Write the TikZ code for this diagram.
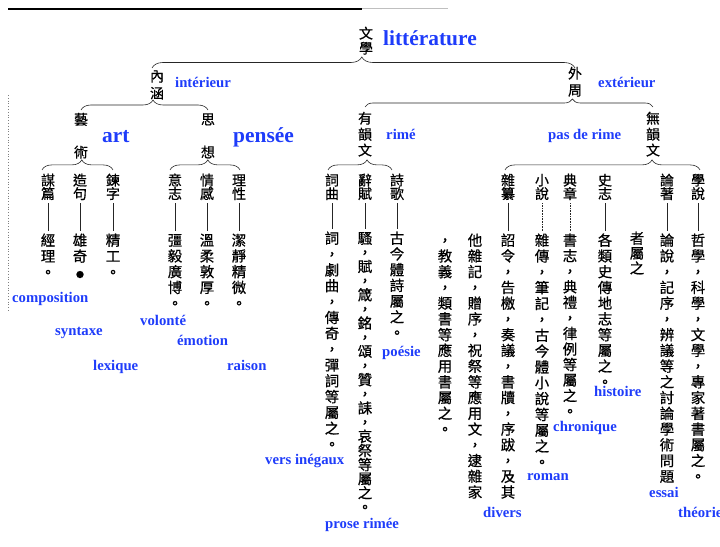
\documentclass[tikz,border=0pt]{standalone}
\usepackage{fontspec}
\setmainfont{Liberation Serif}
\newfontfamily\cjk[FakeBold=0.6]{Noto Sans CJK TC}
\usetikzlibrary{decorations.pathreplacing}
\definecolor{frblue}{RGB}{30,60,250}
\makeatletter
\newcommand\vtxt[2]{\vbox{\baselineskip=#1\lineskiplimit=-\maxdimen
  \@tfor\vch:=#2\do{\hbox to 1em{\hss\vrule height .85em depth .15em width 0pt\vch\hss}}}}
\makeatother
\tikzset{
  term/.style={anchor=north, inner sep=0pt, font=\cjk\fontsize{14}{14}\selectfont},
  desc/.style={anchor=north, inner sep=0pt, font=\cjk\fontsize{14.5}{15}\selectfont},
  fr/.style={anchor=base west, inner sep=0pt, text=frblue, font=\bfseries\fontsize{14.8}{16}\selectfont},
  frbig/.style={fr, font=\bfseries\fontsize{21.5}{24}\selectfont},
  bracket/.style={decorate, decoration={brace, amplitude=10bp, aspect=#1}, black!85, line width=.6bp},
  bracket/.default=0.5,
  link/.style={black!85, line width=.6bp, shorten <=2bp, shorten >=2bp}
}
\begin{document}
\begin{tikzpicture}[x=1bp, y=-1bp]
  \clip (0,0) rectangle (720,547);
  \draw[line width=1.5bp] (8,9) -- (362,9);
  \draw[gray!50, line width=.6bp] (362,8) -- (448,8);
  \draw[gray, dotted, line width=.8bp] (8,95) -- (8,312);

  \node[term] (wenxue) at (366,26.5) {\vtxt{15pt}{文學}};
  \node[term] (neihan) at (157,69.5) {\vtxt{17pt}{內涵}};
  \node[term] (waizhou) at (575,66.5) {\vtxt{17pt}{外周}};
  \node[term] (yishu) at (81,112.5) {\vtxt{33pt}{藝術}};
  \node[term] (sixiang) at (208,112.5) {\vtxt{33pt}{思想}};
  \node[term] (youyun) at (365,111.5) {\vtxt{16pt}{有韻文}};
  \node[term] (wuyun) at (653,111.5) {\vtxt{16pt}{無韻文}};

  \node[term] (moupian) at (48,173.4) {\vtxt{13.5pt}{謀篇}};
  \node[term] (zaoju) at (80,173.4) {\vtxt{13.5pt}{造句}};
  \node[term] (lianzi) at (113,173.4) {\vtxt{13.5pt}{鍊字}};
  \node[term] (yizhi) at (175,173.4) {\vtxt{13.5pt}{意志}};
  \node[term] (qinggan) at (207,173.4) {\vtxt{13.5pt}{情感}};
  \node[term] (lixing) at (239,173.4) {\vtxt{13.5pt}{理性}};
  \node[term] (ciqu) at (332,173.4) {\vtxt{13.5pt}{詞曲}};
  \node[term] (cifu) at (365,173.4) {\vtxt{13.5pt}{辭賦}};
  \node[term] (shige) at (397,173.4) {\vtxt{13.5pt}{詩歌}};
  \node[term] (zazuan) at (508,173.4) {\vtxt{13.5pt}{雜纂}};
  \node[term] (xiaoshuo) at (542,173.4) {\vtxt{13.5pt}{小說}};
  \node[term] (dianzhang) at (570,173.4) {\vtxt{13.5pt}{典章}};
  \node[term] (shizhi) at (605,173.4) {\vtxt{13.5pt}{史志}};
  \node[term] (lunzhu) at (667,173.4) {\vtxt{13.5pt}{論著}};
  \node[term] (xueshuo) at (698,173.4) {\vtxt{13.5pt}{學說}};

  \node[desc] (moupiand) at (48,233.2) {\vtxt{16pt}{經理。}};
  \node[desc] (zaojud) at (80,233.2) {\vtxt{16pt}{雄奇{\fontsize{8}{8}\selectfont ●}}};
  \node[desc] (lianzid) at (113,233.2) {\vtxt{16pt}{精工。}};
  \node[desc] (yizhid) at (175,233.2) {\vtxt{15.8pt}{彊毅廣博。}};
  \node[desc] (qinggand) at (207,233.2) {\vtxt{15.8pt}{溫柔敦厚。}};
  \node[desc] (lixingd) at (239,233.2) {\vtxt{15.8pt}{潔靜精微。}};
  \node[desc] (ciqud) at (332,231.2) {\vtxt{15.9pt}{詞，劇曲，傳奇，彈詞等屬之。}};
  \node[desc] (cifud) at (365,231.2) {\vtxt{14.2pt}{騷，賦，箴，銘，頌，贊，誄，哀祭等屬之。}};
  \node[desc] (shiged) at (397,231.2) {\vtxt{15.8pt}{古今體詩屬之。}};
  \node[desc] (zazuand) at (508,233.2) {\vtxt{15.8pt}{詔令，告檄，奏議，書牘，序跋，及其}};
  \node[desc] (zazuanb) at (475,233.2) {\vtxt{15.8pt}{他雜記，贈序，祝祭等應用文，逮雜家}};
  \node[desc] (zazuanc) at (445,233.2) {\vtxt{15.8pt}{，教義，類書等應用書屬之。}};
  \node[desc] (xiaoshuod) at (542,233.2) {\vtxt{15.9pt}{雜傳，筆記，古今體小說等屬之。}};
  \node[desc] (dianzhangd) at (570,233.2) {\vtxt{15.6pt}{書志，典禮，律例等屬之。}};
  \node[desc] (shizhid) at (605,233.2) {\vtxt{15.8pt}{各類史傳地志等屬之。}};
  \node[desc] (lunzhud) at (667,233.2) {\vtxt{15.8pt}{論說，記序，辨議等之討論學術問題}};
  \node[desc] (lunzhub) at (637,231.2) {\vtxt{15pt}{者屬之}};
  \node[desc] (xueshuod) at (698,233.2) {\vtxt{15.8pt}{哲學，科學，文學，專家著書屬之。}};

  \draw[bracket=.496, decoration={amplitude=11bp}] ([xshift=-5bp,yshift=1.5bp]neihan.north) -- ([yshift=-1.5bp]waizhou.north);
  \draw[bracket=.567] ([yshift=2.5bp]yishu.north) -- ([yshift=2.5bp]sixiang.north);
  \draw[bracket=.72, decoration={amplitude=8bp}] ([yshift=4.5bp]youyun.north) -- ([yshift=4.5bp]wuyun.north);
  \draw[bracket=.56] ([xshift=-6bp,yshift=3.5bp]moupian.north) -- ([yshift=3.5bp]lianzi.north);
  \draw[bracket=.54] ([xshift=-5bp,yshift=3.5bp]yizhi.north) -- ([xshift=1bp,yshift=3.5bp]lixing.north);
  \draw[bracket=.61] ([xshift=-4bp,yshift=3.5bp]ciqu.north) -- ([xshift=-5bp,yshift=3.5bp]shige.north);
  \draw[bracket=.754] ([xshift=-3bp,yshift=3.5bp]zazuan.north) -- ([xshift=2bp,yshift=3.5bp]xueshuo.north);

  \draw[link] (moupian) -- (moupiand);
  \draw[link] (zaoju) -- (zaojud);
  \draw[link] (lianzi) -- (lianzid);
  \draw[link] (yizhi) -- (yizhid);
  \draw[link] (qinggan) -- (qinggand);
  \draw[link] (lixing) -- (lixingd);
  \draw[link] (ciqu) -- (ciqud);
  \draw[link] (cifu) -- (cifud);
  \draw[link] (shige) -- (shiged);
  \draw[link] (zazuan) -- (zazuand);
  \draw[link, densely dotted] (xiaoshuo) -- (xiaoshuod);
  \draw[link, densely dotted] (dianzhang) -- (dianzhangd);
  \draw[link] (shizhi) -- (shizhid);
  \draw[link] (lunzhu) -- (lunzhud);
  \draw[link] (xueshuo) -- (xueshuod);

  \node[frbig] (litt) at (383,46) {littérature};
  \node[fr] (inter) at (175,88) {intérieur};
  \node[fr] (exter) at (598,88) {extérieur};
  \node[frbig] (art) at (102,143) {art};
  \node[frbig] (pensee) at (233,143) {pensée};
  \node[fr] (rime) at (386,140) {rimé};
  \node[fr] (pasrime) at (548,140) {pas de rime};
  \node[fr] (compo) at (12,302) {composition};
  \node[fr] (syntaxe) at (55,335) {syntaxe};
  \node[fr] (lexique) at (93,370) {lexique};
  \node[fr] (volonte) at (140,325) {volonté};
  \node[fr] (emotion) at (177,345) {émotion};
  \node[fr] (raison) at (227,370) {raison};
  \node[fr] (poesie) at (382,356) {poésie};
  \node[fr] (vers) at (265,464) {vers inégaux};
  \node[fr] (prose) at (325,528) {prose rimée};
  \node[fr] (divers) at (483,517) {divers};
  \node[fr] (roman) at (527,480) {roman};
  \node[fr] (chron) at (553,431) {chronique};
  \node[fr] (hist) at (594,396) {histoire};
  \node[fr] (essai) at (649,497) {essai};
  \node[fr] (theorie) at (678,517) {théorie};
\end{tikzpicture}
\end{document}
